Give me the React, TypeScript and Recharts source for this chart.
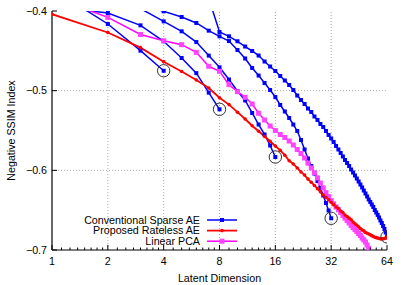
import React from 'react';
import { ComposedChart, Line, XAxis, YAxis, ReferenceLine } from 'recharts';

const latentDims = [1, 2, 3, 4, 5, 6, 7, 8, 9, 10, 11, 12, 13, 14, 15, 16, 17, 18, 19, 20, 21, 22, 23, 24, 25, 26, 27, 28, 29, 30, 31, 32, 33, 34, 35, 36, 37, 38, 39, 40, 41, 42, 43, 44, 45, 46, 47, 48, 49, 50, 51, 52, 53, 54, 55, 56, 57, 58, 59, 60, 61, 62, 63, 64];

const xTickValues = [1, 2, 4, 8, 16, 32, 64];
const xTickLabels = ['1', '2', '4', '8', '16', '32', '64'];
const xMinorTicks = [
  1.125, 1.25, 1.375, 1.5, 1.625, 1.75, 1.875,
  2.25, 2.5, 2.75, 3, 3.25, 3.5, 3.75,
  4.5, 5, 5.5, 6, 6.5, 7, 7.5,
  9, 10, 11, 12, 13, 14, 15,
  18, 20, 22, 24, 26, 28, 30,
  36, 40, 44, 48, 52, 56, 60,
];
const yTickValues = [-0.7, -0.6, -0.5, -0.4];
const yTickLabels = ['\u22120.7', '\u22120.6', '\u22120.5', '\u22120.4'];

const seriesNames = ['Conventional Sparse AE', 'Proposed Rateless AE', 'Linear PCA'];
const xTitle = 'Latent Dimension';
const yTitle = 'Negative SSIM Index';

// Conventional sparse AE trained at sizes 4, 8, 16, 32, 64
const sparseAE4 = [-0.372, -0.4163, -0.4498, -0.475];
const sparseAE8 = [-0.394, -0.4025, -0.418, -0.438, -0.459, -0.478, -0.5025, -0.5234];
const sparseAE16 = [-0.36, -0.375, -0.397, -0.413, -0.4255, -0.439, -0.456, -0.4707, -0.486, -0.5004, -0.5123, -0.528, -0.5425, -0.555, -0.5688, -0.5833];
const sparseAE32 = [-0.37, -0.38, -0.392, -0.4004, -0.4075, -0.415, -0.4247, -0.4318, -0.4377, -0.449, -0.4596, -0.4715, -0.481, -0.4904, -0.4992, -0.508, -0.518, -0.5261, -0.5343, -0.5425, -0.5506, -0.5619, -0.5738, -0.5851, -0.5946, -0.604, -0.6134, -0.6222, -0.6316, -0.641, -0.6504, -0.6602];
const sparseAE64 = [-0.3, -0.31, -0.32, -0.33, -0.34, -0.36, -0.384, -0.4264, -0.4318, -0.438, -0.4446, -0.4502, -0.4559, -0.4634, -0.4697, -0.4753, -0.4816, -0.4872, -0.4929, -0.4992, -0.5061, -0.5117, -0.5167, -0.5224, -0.5268, -0.5324, -0.5368, -0.5418, -0.5456, -0.5506, -0.5556, -0.56, -0.5644, -0.5694, -0.5738, -0.5782, -0.5826, -0.587, -0.5908, -0.5946, -0.599, -0.6027, -0.6065, -0.6103, -0.614, -0.6178, -0.6215, -0.6253, -0.6291, -0.6328, -0.6366, -0.6397, -0.6429, -0.646, -0.6498, -0.6529, -0.656, -0.6592, -0.663, -0.6661, -0.6699, -0.6736, -0.678, -0.6835];

const ratelessAE = [-0.404, -0.427, -0.446, -0.4636, -0.476, -0.4866, -0.4967, -0.5088, -0.5175, -0.527, -0.5356, -0.544, -0.551, -0.5575, -0.5635, -0.5695, -0.575, -0.581, -0.588, -0.592, -0.597, -0.602, -0.606, -0.611, -0.615, -0.619, -0.623, -0.627, -0.631, -0.634, -0.637, -0.64, -0.643, -0.646, -0.648, -0.651, -0.653, -0.656, -0.658, -0.66, -0.662, -0.665, -0.667, -0.669, -0.671, -0.673, -0.675, -0.676, -0.678, -0.679, -0.68, -0.681, -0.682, -0.683, -0.684, -0.6845, -0.685, -0.6855, -0.686, -0.686, -0.686, -0.6855, -0.685, -0.6835];

const linearPCA = [-0.382, -0.408, -0.4295, -0.4373, -0.4423, -0.4519, -0.4694, -0.4757, -0.4925, -0.5013, -0.5083, -0.5167, -0.5284, -0.5368, -0.5443, -0.55, -0.555, -0.5588, -0.5632, -0.5682, -0.5738, -0.5789, -0.5845, -0.591, -0.597, -0.603, -0.6095, -0.616, -0.622, -0.628, -0.633, -0.638, -0.642, -0.646, -0.6495, -0.653, -0.6565, -0.66, -0.663, -0.666, -0.6692, -0.6718, -0.6743, -0.6768, -0.6793, -0.6818, -0.685, -0.6874, -0.69, -0.6937, -0.698, -0.7025, -0.707, -0.712];

const BLUE = '#0000ff';
const RED = '#ff0000';
const PINK = '#ff00ff';
const FONT = '"Liberation Sans", Arial, Helvetica, sans-serif';
const FS = 10.7;

const toPoints = (vals: number[]) => vals.map((v, i) => ({ x: latentDims[i], y: v }));

const sparseSets = [sparseAE4, sparseAE8, sparseAE16, sparseAE32, sparseAE64];
const endPoints = sparseSets.map((s) => ({ x: latentDims[s.length - 1], y: s[s.length - 1] }));
const allXTicks = [...xTickValues, ...xMinorTicks].sort((a, b) => a - b);

const squareDot = (size: number, fill: string) => (props: any) => {
  const { cx, cy, index } = props;
  if (cx == null || cy == null) return <g key={`s${index}`} />;
  return <rect key={`s${index}`} x={cx - size / 2} y={cy - size / 2} width={size} height={size} fill={fill} />;
};
const roundDot = (r: number, fill: string) => (props: any) => {
  const { cx, cy, index } = props;
  if (cx == null || cy == null) return <g key={`c${index}`} />;
  return <circle key={`c${index}`} cx={cx} cy={cy} r={r} fill={fill} />;
};
const ringDot = (props: any) => {
  const { cx, cy, index } = props;
  if (cx == null || cy == null) return <g key={`r${index}`} />;
  return <circle key={`r${index}`} cx={cx} cy={cy} r={6.2} fill="none" stroke="#333" strokeWidth={1} />;
};

const BottomTick = (props: any) => {
  const { x, y, payload } = props;
  const idx = xTickValues.indexOf(payload.value);
  const major = idx >= 0;
  return (
    <g>
      <line x1={x} x2={x} y1={y} y2={y - (major ? 5 : 2.5)} stroke="#000" strokeWidth={1} />
      {major && (
        <text x={x} y={y + 14.5} textAnchor="middle" fontSize={FS} fontFamily={FONT} fill="#000">
          {xTickLabels[idx]}
        </text>
      )}
    </g>
  );
};
const TopTick = (props: any) => {
  const { x, y, payload } = props;
  const major = xTickValues.indexOf(payload.value) >= 0;
  return <line x1={x} x2={x} y1={y} y2={y + (major ? 5 : 2.5)} stroke="#000" strokeWidth={1} />;
};
const LeftTick = (props: any) => {
  const { x, y, payload } = props;
  const idx = yTickValues.indexOf(payload.value);
  return (
    <g>
      <line x1={x} x2={x + 5} y1={y} y2={y} stroke="#000" strokeWidth={1} />
      <text x={x - 5} y={y + 3.8} textAnchor="end" fontSize={FS} fontFamily={FONT} fill="#000">
        {yTickLabels[idx]}
      </text>
    </g>
  );
};
const RightTick = (props: any) => {
  const { x, y } = props;
  return <line x1={x} x2={x - 5} y1={y} y2={y} stroke="#000" strokeWidth={1} />;
};

const legendRows = [
  { name: seriesNames[0], color: BLUE, marker: 'sq4' },
  { name: seriesNames[1], color: RED, marker: 'dot' },
  { name: seriesNames[2], color: PINK, marker: 'sq5' },
];

export default function App() {
  return (
    <div style={{ position: 'absolute', left: 0, top: 0, width: 407, height: 285 }}>
      <ComposedChart width={407} height={285} margin={{ top: 11, right: 20, bottom: 0, left: 0 }}>
        <XAxis
          type="number"
          dataKey="x"
          scale="log"
          domain={[1, 64]}
          ticks={allXTicks}
          interval={0}
          allowDataOverflow
          height={35}
          tickSize={0}
          tickMargin={0}
          tickLine={false}
          tick={BottomTick}
          axisLine={{ stroke: '#000', strokeWidth: 1.2 }}
        />
        <XAxis
          xAxisId="top"
          orientation="top"
          type="number"
          dataKey="x"
          scale="log"
          domain={[1, 64]}
          ticks={allXTicks}
          interval={0}
          allowDataOverflow
          height={0}
          tickSize={0}
          tickMargin={0}
          tickLine={false}
          tick={TopTick}
          axisLine={{ stroke: '#000', strokeWidth: 1.2 }}
        />
        <YAxis
          type="number"
          domain={[-0.7, -0.4]}
          ticks={yTickValues}
          interval={0}
          allowDataOverflow
          width={52}
          tickSize={0}
          tickMargin={0}
          tickLine={false}
          tick={LeftTick}
          axisLine={{ stroke: '#000', strokeWidth: 1.2 }}
        />
        <YAxis
          yAxisId="right"
          orientation="right"
          type="number"
          domain={[-0.7, -0.4]}
          ticks={yTickValues}
          interval={0}
          allowDataOverflow
          width={0}
          tickSize={0}
          tickMargin={0}
          tickLine={false}
          tick={RightTick}
          axisLine={{ stroke: '#000', strokeWidth: 1.2 }}
        />
        {xTickValues.slice(1, -1).map((v) => (
          <ReferenceLine key={`gx${v}`} x={v} stroke="#aaa" strokeDasharray="1 2" strokeWidth={1} />
        ))}
        {yTickValues.slice(1, -1).map((v) => (
          <ReferenceLine key={`gy${v}`} y={v} stroke="#aaa" strokeDasharray="1 2" strokeWidth={1} />
        ))}
        {sparseSets.map((s, i) => (
          <Line
            key={`sp${i}`}
            data={toPoints(s)}
            dataKey="y"
            type="linear"
            stroke={BLUE}
            strokeWidth={1.5}
            dot={squareDot(4, BLUE)}
            activeDot={false}
            isAnimationActive={false}
          />
        ))}
        <Line
          data={toPoints(linearPCA)}
          dataKey="y"
          type="linear"
          stroke={PINK}
          strokeWidth={1.5}
          dot={squareDot(5, '#ff44ff')}
          activeDot={false}
          isAnimationActive={false}
        />
        <Line
          data={toPoints(ratelessAE)}
          dataKey="y"
          type="linear"
          stroke={RED}
          strokeWidth={1.8}
          dot={roundDot(1.8, RED)}
          activeDot={false}
          isAnimationActive={false}
        />
        <Line
          data={endPoints}
          dataKey="y"
          type="linear"
          stroke="none"
          dot={ringDot}
          activeDot={false}
          isAnimationActive={false}
        />
      </ComposedChart>
      <svg
        width={407}
        height={285}
        style={{ position: 'absolute', left: 0, top: 0, pointerEvents: 'none' }}
      >
        <text
          x={11}
          y={130.5}
          transform="rotate(-90 11 130.5)"
          textAnchor="middle"
          dominantBaseline="central"
          fontSize={FS}
          fontFamily={FONT}
          fill="#000"
        >
          {yTitle}
        </text>
        <text x={219.5} y={281.5} textAnchor="middle" fontSize={FS} fontFamily={FONT} fill="#000">
          {xTitle}
        </text>
        {legendRows.map((r, i) => {
          const cy = 220 + i * 10.6;
          return (
            <g key={r.name}>
              <text x={200} y={cy + 3.8} textAnchor="end" fontSize={FS} fontFamily={FONT} fill="#000">
                {r.name}
              </text>
              <line x1={207} x2={237} y1={cy} y2={cy} stroke={r.color} strokeWidth={r.marker === 'dot' ? 1.8 : 1.5} />
              {r.marker === 'dot' ? (
                <circle cx={222} cy={cy} r={1.8} fill={r.color} />
              ) : (
                <rect
                  x={222 - (r.marker === 'sq5' ? 2.5 : 2)}
                  y={cy - (r.marker === 'sq5' ? 2.5 : 2)}
                  width={r.marker === 'sq5' ? 5 : 4}
                  height={r.marker === 'sq5' ? 5 : 4}
                  fill={r.marker === 'sq5' ? '#ff44ff' : r.color}
                />
              )}
            </g>
          );
        })}
      </svg>
    </div>
  );
}
